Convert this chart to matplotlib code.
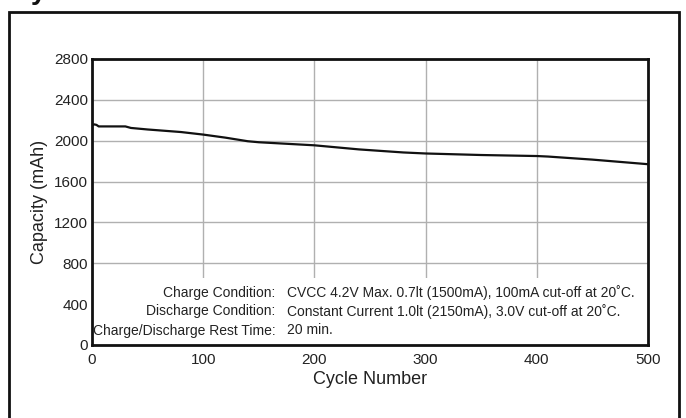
import matplotlib
matplotlib.use("Agg")
import matplotlib.pyplot as plt
from matplotlib.patches import Rectangle

plt.rcParams['font.family'] = ['Liberation Sans', 'DejaVu Sans']

cycles = [0, 2, 4, 6, 30, 35, 50, 80, 100, 120, 140, 150, 200, 240, 280, 300, 350, 400, 410, 450, 500]
capacity = [2150, 2160, 2155, 2140, 2140, 2125, 2110, 2085, 2060, 2030, 1995, 1985, 1955, 1915, 1885, 1875, 1860, 1850, 1845, 1815, 1770]

x_ticks = [0, 100, 200, 300, 400, 500]
y_ticks = [0, 400, 800, 1200, 1600, 2000, 2400, 2800]

cond_labels = ["Charge Condition:", "Discharge Condition:", "Charge/Discharge Rest Time:"]
cond_values = ["CVCC 4.2V Max. 0.7lt (1500mA), 100mA cut-off at 20˚C.",
               "Constant Current 1.0lt (2150mA), 3.0V cut-off at 20˚C.",
               "20 min."]

W, H = 686, 418
fig = plt.figure(figsize=(W / 100, H / 100), dpi=100)
ax = fig.add_axes([92 / W, 1 - 345 / H, (648 - 92) / W, (345 - 59) / H])

ax.set_xlim(0, 500)
ax.set_ylim(0, 2800)
ax.set_xticks(x_ticks)
ax.set_yticks(y_ticks)
ax.grid(True, color='#b0b0b0', linewidth=1.0)
ax.set_axisbelow(True)
ax.tick_params(length=0, labelsize=11, colors='#222222')
ax.tick_params(axis='x', pad=6)
ax.tick_params(axis='y', pad=3)
for s in ax.spines.values():
    s.set_linewidth(2.0)
    s.set_color('#111111')
    s.set_zorder(5)

# white panel behind the condition text
ax.add_patch(Rectangle((0, 0), 500, 660, facecolor='white', edgecolor='none', zorder=1.5))

ax.plot(cycles, capacity, color='#111111', linewidth=1.6, zorder=3)

ax.set_xlabel("Cycle Number", fontsize=13, labelpad=3, color='#222222')
ax.set_ylabel("Capacity (mAh)", fontsize=13, labelpad=4, color='#222222')

ys = [292.5, 311.5, 330.5]
for lab, val, y in zip(cond_labels, cond_values, ys):
    fig.text(275.5 / W, 1 - y / H, lab, ha='right', va='center', fontsize=10, color='#222222')
    fig.text(287 / W, 1 - y / H, val, ha='left', va='center', fontsize=10, color='#222222')

# outer frame
fig.add_artist(Rectangle((9 / W, -0.05), (679 - 9) / W, 1 - 12 / H + 0.05,
                         transform=fig.transFigure, facecolor='none',
                         edgecolor='#111111', linewidth=2.0))

# clipped title at top
fig.text(11 / W, 1 + 1 / H, "Cycle Life", fontsize=20, fontweight='bold',
         ha='left', va='baseline', color='#111111')

fig.savefig("out.png", dpi=100)
